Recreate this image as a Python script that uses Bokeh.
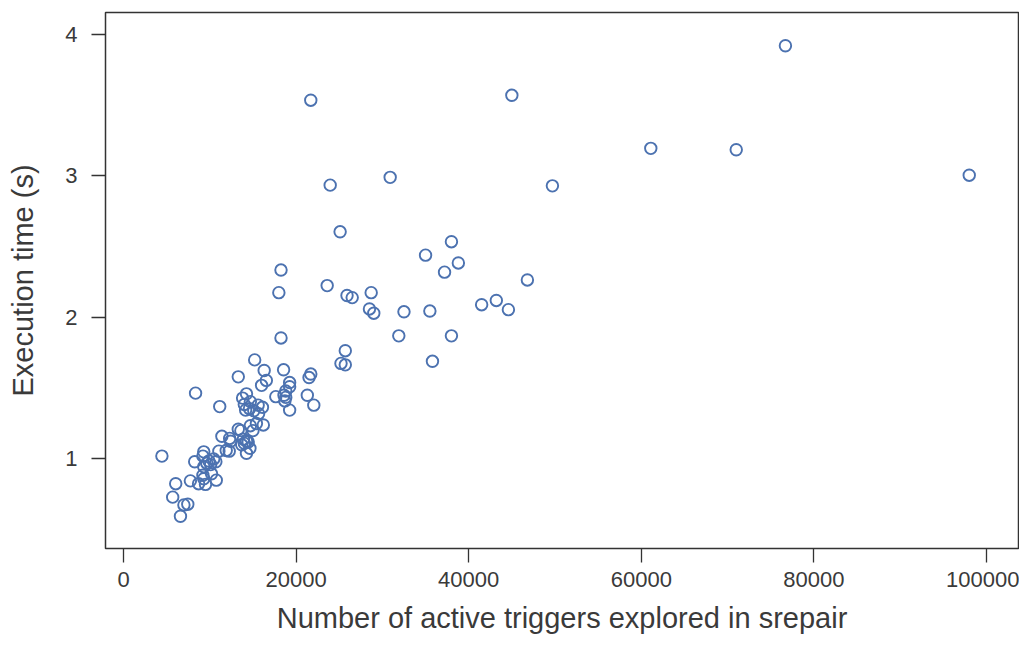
from bokeh.plotting import figure
from bokeh.models import Range1d, FixedTicker, BasicTickFormatter
from bokeh.embed import file_html
from bokeh.resources import INLINE

triggers = [76700, 45000, 21700, 61100, 71000, 98000, 30900, 23950, 49700, 25100,
            38000, 35000, 38800, 18250, 37200, 46800, 23600, 18000, 28700, 25900,
            26500, 43200, 41500, 28500, 44600, 32500, 35500, 29000, 31900, 38000,
            18250, 25700, 15200, 25200, 25700, 35800, 18550, 16300, 13300, 21700,
            21500, 16550, 19250, 16000, 19250, 8350, 14250, 18800, 18600, 21300,
            17650, 13800, 18800, 18700, 14700, 14000, 22050, 11150, 15600, 16100,
            14600, 19250, 15100, 14150, 15650, 15400, 16200, 14700, 15000, 13300,
            13600, 11400, 12300, 13900, 14250, 12400, 14000, 14450, 13700, 14650,
            11050, 12250, 11900, 14250, 9300, 4450, 9200, 10450, 9900, 10700,
            8250, 9650, 9300, 10100, 10200, 9200, 9300, 7750, 10750, 6050,
            8700, 9500, 5700, 7450, 7000, 6600]
exec_time = [3.92, 3.57, 3.535, 3.195, 3.185, 3.005, 2.99, 2.935, 2.93, 2.605,
             2.535, 2.44, 2.385, 2.335, 2.32, 2.265, 2.225, 2.175, 2.175, 2.155,
             2.14, 2.12, 2.09, 2.06, 2.055, 2.04, 2.045, 2.03, 1.87, 1.87,
             1.855, 1.765, 1.70, 1.675, 1.665, 1.69, 1.63, 1.625, 1.58, 1.60,
             1.575, 1.555, 1.54, 1.52, 1.51, 1.465, 1.46, 1.48, 1.45, 1.45,
             1.44, 1.43, 1.435, 1.41, 1.405, 1.385, 1.38, 1.37, 1.38, 1.365,
             1.355, 1.345, 1.34, 1.345, 1.32, 1.25, 1.24, 1.235, 1.20, 1.21,
             1.20, 1.16, 1.145, 1.14, 1.125, 1.125, 1.11, 1.12, 1.10, 1.075,
             1.055, 1.055, 1.06, 1.04, 1.05, 1.02, 1.02, 1.00, 0.985, 0.98,
             0.98, 0.97, 0.945, 0.96, 0.895, 0.885, 0.86, 0.845, 0.85, 0.825,
             0.825, 0.82, 0.73, 0.68, 0.675, 0.595]

x_ticks = [0, 20000, 40000, 60000, 80000, 100000]
y_ticks = [1, 2, 3, 4]

FONT = "Liberation Sans"
TXT = "#3a3a3a"

p = figure(width=1019, height=639, output_backend="svg", toolbar_location=None,
           x_range=Range1d(-2086, 103708), y_range=Range1d(0.367, 4.155),
           min_border_left=105, min_border_right=1, min_border_top=12, min_border_bottom=91)

p.scatter(triggers, exec_time, size=11.5, fill_color=None, line_color="#4C72B0", line_width=1.9)

p.grid.visible = False
p.outline_line_color = "#333333"
p.outline_line_width = 1.5
p.background_fill_color = "white"
p.border_fill_color = "white"

p.xaxis.ticker = FixedTicker(ticks=x_ticks)
p.yaxis.ticker = FixedTicker(ticks=y_ticks)
p.xaxis.formatter = BasicTickFormatter(use_scientific=False)
p.yaxis.formatter = BasicTickFormatter(use_scientific=False)
p.xaxis.minor_tick_line_color = None
p.yaxis.minor_tick_line_color = None

for ax in (p.xaxis[0], p.yaxis[0]):
    ax.axis_line_color = None
    ax.major_tick_in = 0
    ax.major_tick_out = 14
    ax.major_tick_line_color = "#333333"
    ax.major_tick_line_width = 1.3
    ax.major_label_text_font = FONT
    ax.major_label_text_font_size = "22px"
    ax.major_label_text_color = TXT
    ax.axis_label_text_font = FONT
    ax.axis_label_text_font_size = "29px"
    ax.axis_label_text_font_style = "normal"
    ax.axis_label_text_color = TXT

p.xaxis.axis_label = "Number of active triggers explored in srepair"
p.yaxis.axis_label = "Execution time (s)"
p.xaxis.major_label_standoff = 9
p.yaxis.major_label_standoff = 14
p.xaxis.axis_label_standoff = 12
p.yaxis.axis_label_standoff = 23

open("out.html", "w").write(file_html(p, INLINE))
